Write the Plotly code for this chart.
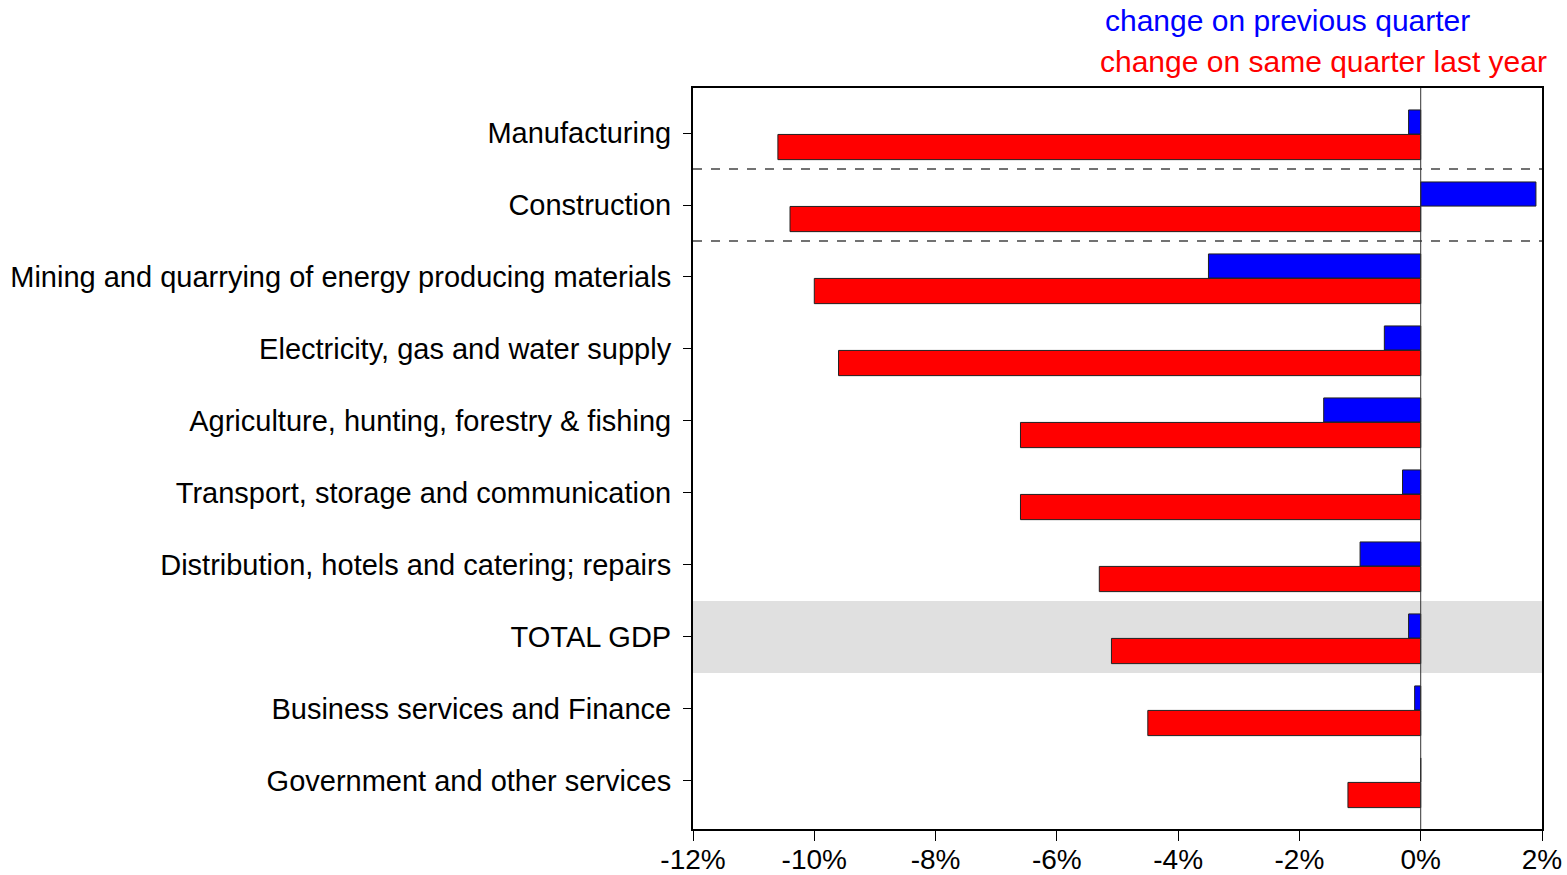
import plotly.graph_objects as go

sectors = [
    "Manufacturing",
    "Construction",
    "Mining and quarrying of energy producing materials",
    "Electricity, gas and water supply",
    "Agriculture, hunting, forestry & fishing",
    "Transport, storage and communication",
    "Distribution, hotels and catering; repairs",
    "TOTAL GDP",
    "Business services and Finance",
    "Government and other services",
]
prev_quarter = [-0.2, 1.9, -3.5, -0.6, -1.6, -0.3, -1.0, -0.2, -0.1, 0.0]
same_quarter_last_year = [-10.6, -10.4, -10.0, -9.6, -6.6, -6.6, -5.3, -5.1, -4.5, -1.2]
x_ticks = [-12, -10, -8, -6, -4, -2, 0, 2]
x_tick_labels = ["-12%", "-10%", "-8%", "-6%", "-4%", "-2%", "0%", "2%"]

fig = go.Figure()
fig.add_trace(go.Bar(
    y=sectors, x=prev_quarter, orientation="h", name="change on previous quarter",
    offset=-0.32, width=0.335,
    marker=dict(color="#0000ff", line=dict(color="#202020", width=1)),
))
fig.add_trace(go.Bar(
    y=sectors, x=same_quarter_last_year, orientation="h", name="change on same quarter last year",
    offset=0.02, width=0.35,
    marker=dict(color="#ff0000", line=dict(color="#202020", width=1)),
))

# shaded band behind total GDP
fig.add_shape(type="rect", xref="paper", x0=0, x1=1, y0=6.5, y1=7.5,
              fillcolor="#e0e0e0", line_width=0, layer="below")
# dashed separators around construction
for yv in [0.5, 1.5]:
    fig.add_shape(type="line", xref="paper", x0=0, x1=1, y0=yv, y1=yv,
                  line=dict(color="#444444", width=1.3, dash="dash"))
# zero line
fig.add_shape(type="line", yref="paper", x0=0, x1=0, y0=0, y1=1,
              line=dict(color="#333333", width=1))

fig.add_annotation(text="change on previous quarter", xref="paper", yref="paper",
                   x=0.70, y=1.0, yshift=68, xanchor="center", yanchor="middle",
                   showarrow=False, font=dict(color="#0000ff", size=30))
fig.add_annotation(text="change on same quarter last year", xref="paper", yref="paper",
                   x=0.743, y=1.0, yshift=27, xanchor="center", yanchor="middle",
                   showarrow=False, font=dict(color="#ff0000", size=30))

fig.update_layout(
    width=1567, height=875,
    barmode="overlay",
    showlegend=False,
    plot_bgcolor="white", paper_bgcolor="white",
    margin=dict(l=693, r=25, t=88, b=46, autoexpand=False),
    font=dict(family="Arial, Liberation Sans, sans-serif", color="black", size=24),
)
fig.update_xaxes(
    range=[-12, 2], tickvals=x_ticks, ticktext=x_tick_labels,
    showgrid=False, zeroline=False, automargin=False,
    ticks="outside", ticklen=10, tickcolor="black", ticklabelstandoff=-6,
    showline=True, linecolor="black", linewidth=2, mirror=True,
    tickfont=dict(size=28),
)
fig.update_yaxes(
    range=[9.667, -0.625], showgrid=False, zeroline=False, automargin=False,
    ticks="outside", ticklen=8, tickcolor="black", ticklabelstandoff=6,
    showline=True, linecolor="black", linewidth=2, mirror=True,
    tickfont=dict(size=29),
)

fig.write_html("out.html", config={"displayModeBar": False},
               post_script="document.body.style.margin='0';")
